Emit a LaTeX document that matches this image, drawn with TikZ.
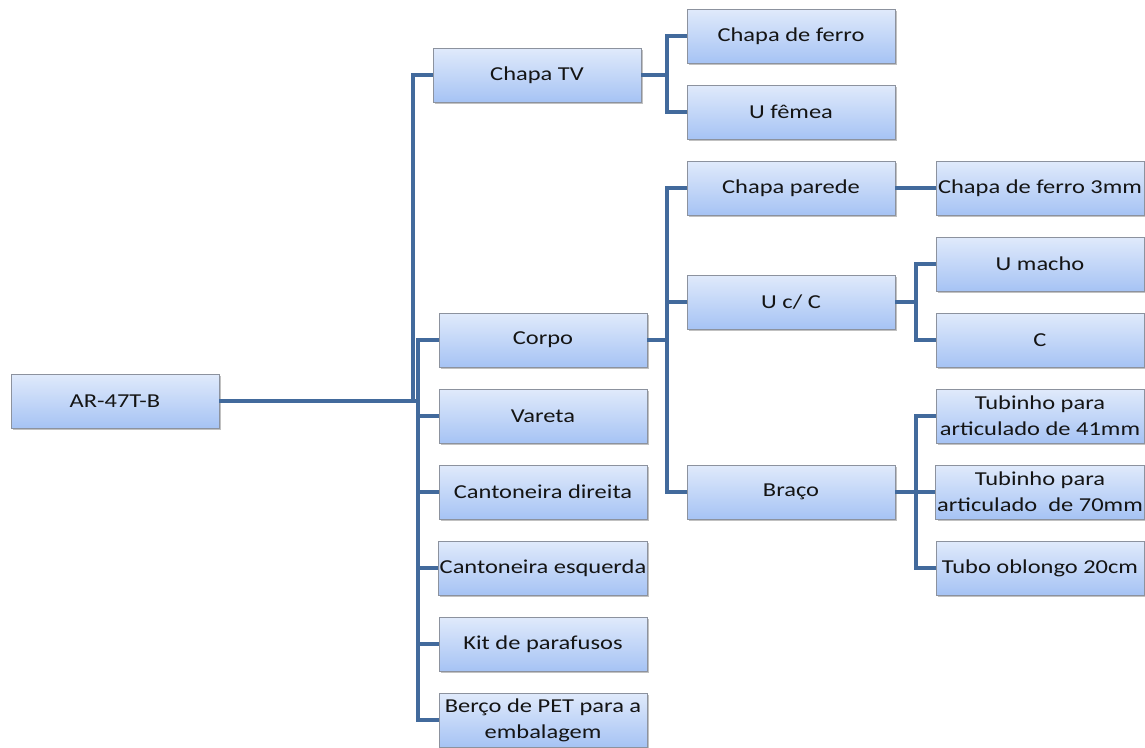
\documentclass[tikz,border=0pt]{standalone}
\usepackage{fontspec}
\setmainfont{Carlito}[FakeStretch=1.24]
\usetikzlibrary{shadows}
\definecolor{linkblue}{RGB}{66,106,156}
\definecolor{boxtop}{RGB}{224,234,251}
\definecolor{boxbot}{RGB}{166,195,244}
\definecolor{boxedge}{RGB}{140,146,158}
\definecolor{txt}{RGB}{20,20,20}
\begin{document}
\begin{tikzpicture}[x=0.75pt,y=-0.75pt,
  part/.style={rectangle, draw=boxedge, line width=0.6pt,
    top color=boxtop, bottom color=boxbot,
    minimum width=156pt, minimum height=40.5pt, inner sep=1pt,
    align=center, text=txt,
    font=\fontsize{14.8}{19.5}\selectfont,
    drop shadow={shadow xshift=1.3pt, shadow yshift=-1.5pt, opacity=0.35, fill=black!70}},
  link/.style={draw=linkblue, line width=3pt}]
\useasboundingbox (0,0) rectangle (1145,747);

% top level
\node[part] (root)  at (115,401) {AR-47T-B};
% first level
\node[part] (chtv)   at (537,75)  {Chapa TV};
\node[part] (corpo)  at (543,340) {Corpo};
\node[part] (vareta) at (543,416) {Vareta};
\node[part] (cdir)   at (543,492) {Cantoneira direita};
\node[part] (cesq)   at (543,568) {Cantoneira esquerda};
\node[part] (kit)    at (543,644) {Kit de parafusos};
\node[part] (berco)  at (543,720) {Berço de PET para a\\embalagem};
% second level
\node[part] (cferro) at (791,36)  {Chapa de ferro};
\node[part] (ufem)   at (791,112) {U fêmea};
\node[part] (cpar)   at (791,188) {Chapa parede};
\node[part] (ucc)    at (791,302) {U c/ C};
\node[part] (braco)  at (791,492) {Braço};
% third level
\node[part] (cf3)    at (1040,188) {Chapa de ferro 3mm};
\node[part] (umacho) at (1040,264) {U macho};
\node[part] (cc)     at (1040,340) {C};
\node[part] (tb41)   at (1040,416) {Tubinho para\\articulado de 41mm};
\node[part] (tb70)   at (1040,492) {Tubinho para\\articulado\ \ de 70mm};
\node[part] (tbo)    at (1040,568) {Tubo oblongo 20cm};

% bus lines
\coordinate (r1) at (413,0);
\coordinate (r2) at (418,0);
\coordinate (m1) at (667,0);
\coordinate (m2) at (916,0);

% root branches
\draw[link] (root.east) -- (r2 |- root.east);
\draw[link] (r1 |- root.east) |- (chtv.west);
\draw[link] (corpo.west) -| (r2 |- berco.west) -- (berco.west);
\foreach \n in {vareta,cdir,cesq,kit}
  \draw[link] (\n.west) -- (r2 |- \n.west);

% Chapa TV branches
\draw[link] (chtv.east) -- (m1 |- chtv.east);
\draw[link] (cferro.west) -| (m1 |- ufem.west) -- (ufem.west);

% Corpo branches
\draw[link] (corpo.east) -- (m1 |- corpo.east);
\draw[link] (cpar.west) -| (m1 |- braco.west) -- (braco.west);
\draw[link] (ucc.west) -- (m1 |- ucc.west);

% Chapa parede
\draw[link] (cpar.east) -- (cf3.west);

% U c/ C branches
\draw[link] (ucc.east) -- (m2 |- ucc.east);
\draw[link] (umacho.west) -| (m2 |- cc.west) -- (cc.west);

% Braço branches
\draw[link] (braco.east) -- (m2 |- braco.east);
\draw[link] (tb41.west) -| (m2 |- tbo.west) -- (tbo.west);
\draw[link] (tb70.west) -- (m2 |- tb70.west);
\end{tikzpicture}
\end{document}
